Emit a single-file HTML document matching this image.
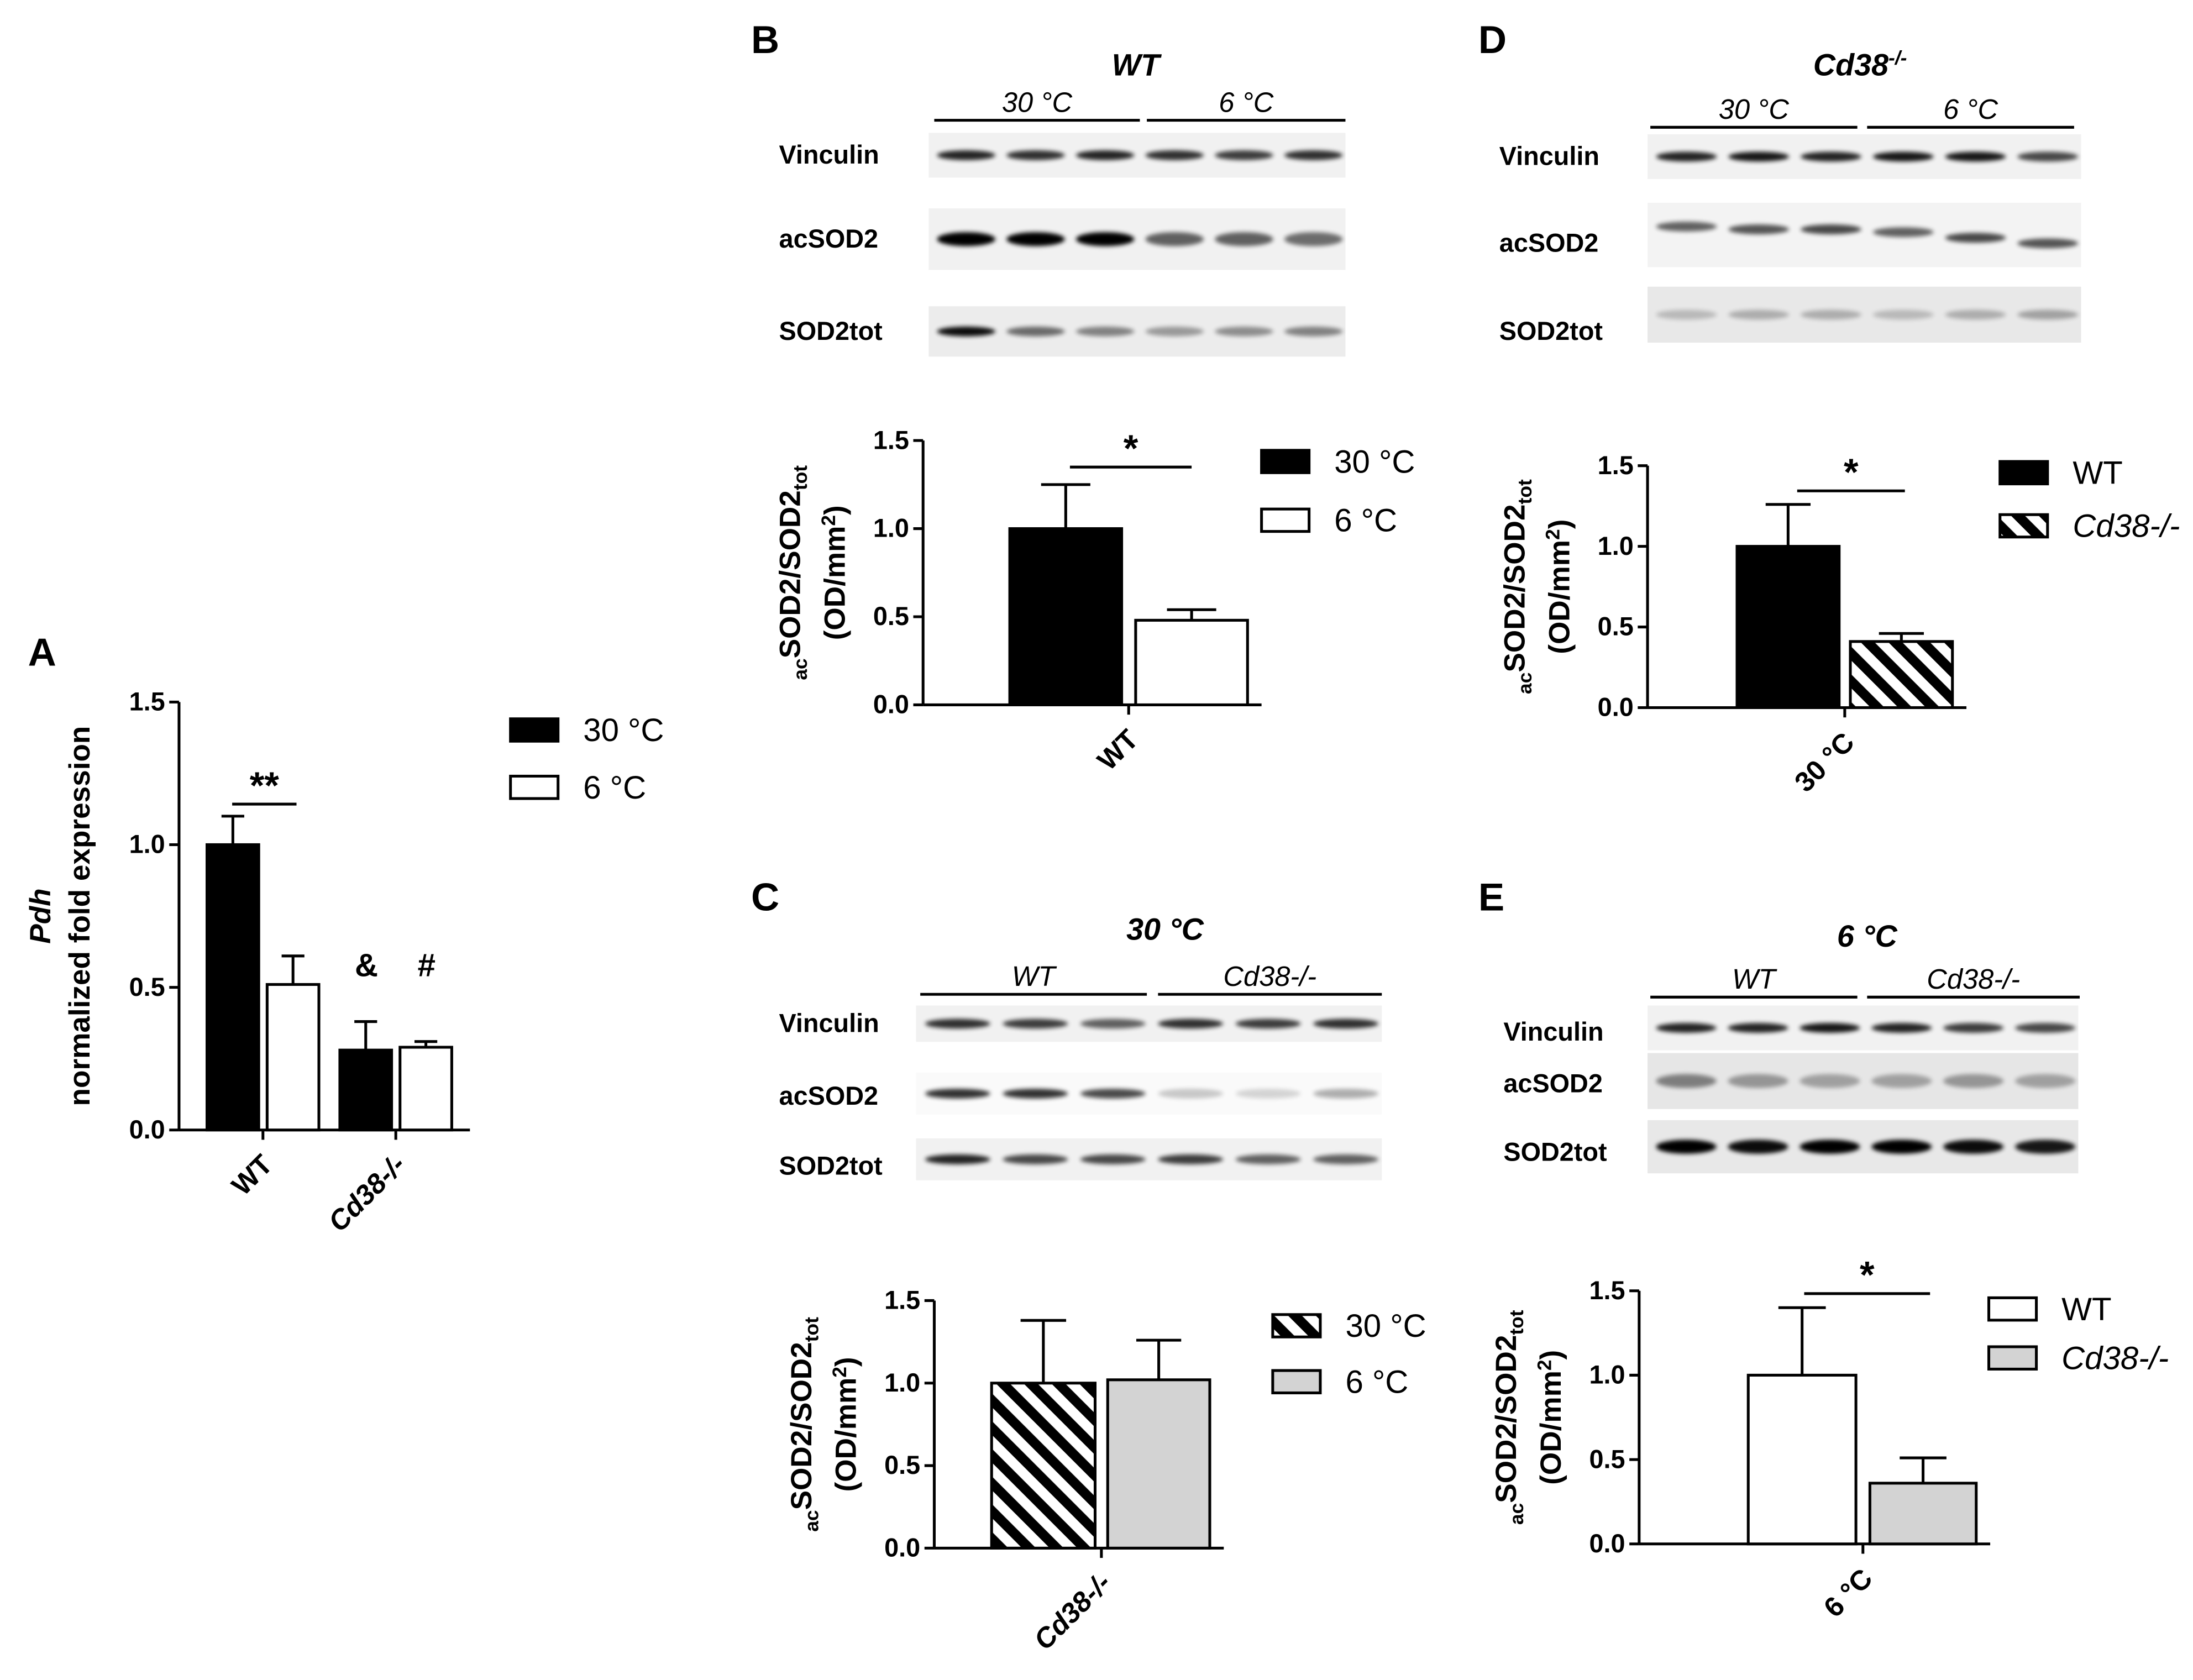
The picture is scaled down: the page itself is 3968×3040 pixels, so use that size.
<!DOCTYPE html>
<html><head><meta charset="utf-8"><style>
html,body{margin:0;padding:0;background:#fff}
svg{display:block}
text{font-family:"Liberation Sans",Arial,sans-serif;fill:#000}
</style></head><body>
<svg id="fig" xmlns="http://www.w3.org/2000/svg" width="3968" height="3040" viewBox="0 0 1568 1201.3">
<defs>
<pattern id="hatch" patternUnits="userSpaceOnUse" width="14" height="14" patternTransform="rotate(-45)">
<rect width="14" height="14" fill="#fff"/><rect width="7" height="14" fill="#000"/>
</pattern>
<filter id="blur" x="-20%" y="-50%" width="140%" height="200%"><feGaussianBlur stdDeviation="1.6"/></filter>
</defs>
<g id="root"></g>
</svg>
<script>
// ---- chart data ----
const aCategories = ["WT", "Cd38-/-"];
const aSeries30 = [1.0, 0.28];
const aSeries30Err = [1.1, 0.38];
const aSeries6 = [0.51, 0.29];
const aSeries6Err = [0.61, 0.31];
const bValues = [1.0, 0.48];
const bErr = [1.25, 0.54];
const cValues = [1.0, 1.02];
const cErr = [1.38, 1.26];
const dValues = [1.0, 0.41];
const dErr = [1.26, 0.46];
const eValues = [1.0, 0.36];
const eErr = [1.4, 0.51];
const tickLabels = ["0.0", "0.5", "1.0", "1.5"];
const tickValues = [0, 0.5, 1.0, 1.5];

const NS = "http://www.w3.org/2000/svg";
const root = document.getElementById('root');
function el(tag, attrs, parent, txt) {
  const e = document.createElementNS(NS, tag);
  for (const k in attrs) e.setAttribute(k, attrs[k]);
  if (txt !== undefined) e.textContent = txt;
  (parent || root).appendChild(e);
  return e;
}
function grp(name) {
  const g = el('g', {});
  
  
  return g;
}

function axis(g, x0, yTop, y0, vmax) {
  const y = v => y0 - (v / vmax) * (y0 - yTop);
  const ax = el('line', {x1: x0, y1: yTop, x2: x0, y2: y0, stroke: '#000', 'stroke-width': 2}, g);
  
  
  tickValues.forEach((v, i) => {
    el('line', {x1: x0 - 7, y1: y(v), x2: x0, y2: y(v), stroke: '#000', 'stroke-width': 2}, g);
    const t = el('text', {x: x0 - 10, y: y(v) + 6, 'text-anchor': 'end', 'font-size': 18.5, 'font-weight': 'bold'}, g, tickLabels[i]);
    
    
  });
  return y;
}
function bar(g, y, x1, x2, v, err, fill, y0, name) {
  const r = el('rect', {x: x1, y: y(v), width: x2 - x1, height: y0 - y(v), fill: fill, stroke: '#000', 'stroke-width': 2}, g);
  
  
  const cx = (x1 + x2) / 2, w = (x2 - x1) * 0.22;
  const eb = el('path', {d: `M${cx},${y(v)}V${y(err)}M${cx - w},${y(err)}H${cx + w}`, stroke: '#000', 'stroke-width': 2, fill: 'none'}, g);
  
  
}
function xaxisLine(g, x0, x2, y0) {
  el('line', {x1: x0, y1: y0, x2: x2, y2: y0, stroke: '#000', 'stroke-width': 2}, g);
}
function legend(g, x, y, fill, label, italic) {
  const r = el('rect', {x: x, y: y, width: 34, height: 16, fill: fill, stroke: '#000', 'stroke-width': 2}, g);
  
  
  const t = el('text', {x: x + 52, y: y + 16, 'font-size': 23, 'font-style': italic ? 'italic' : 'normal'}, g, label);
  
  
}
function rotLabel(g, x, y, txt, italic) {
  const t = el('text', {x: x, y: y, 'text-anchor': 'end', 'font-size': 20, 'font-weight': 'bold', 'font-style': italic ? 'italic' : 'normal', transform: `rotate(-45 ${x} ${y})`}, g, txt);
  
  
}
function yTitle(g, x, cy) {
  const t = el('text', {x: x, y: cy, 'text-anchor': 'middle', 'font-size': 21, 'font-weight': 'bold', transform: `rotate(-90 ${x} ${cy})`}, g);
  
  
  el('tspan', {'font-size': 14, dy: 5}, t, 'ac');
  el('tspan', {dy: -5}, t, 'SOD2/SOD2');
  el('tspan', {'font-size': 14, dy: 5}, t, 'tot');
  const t2 = el('text', {x: x + 32, y: cy, 'text-anchor': 'middle', 'font-size': 21, 'font-weight': 'bold', transform: `rotate(-90 ${x + 32} ${cy})`}, g);
  
  
  el('tspan', {}, t2, '(OD/mm');
  el('tspan', {'font-size': 14, dy: -7}, t2, '2');
  el('tspan', {dy: 7}, t2, ')');
}
function sig(g, x1, x2, y, star) {
  el('line', {x1: x1, y1: y, x2: x2, y2: y, stroke: '#000', 'stroke-width': 2}, g);
  const t = el('text', {x: (x1 + x2) / 2, y: y - 4, 'text-anchor': 'middle', 'font-size': 27, 'font-weight': 'bold'}, g, star);
  
  
}
function letter(x, y, L) {
  const t = el('text', {x: x, y: y, 'font-size': 28, 'font-weight': 'bold'}, root, L);
  
  
}

// ---- Panel A ----
(function () {
  const g = grp('panel-a-chart');
  const y0 = 808;
  const y = axis(g, 128, 502, y0, 1.5);
  xaxisLine(g, 128, 336, y0);
  const groups = [[148, 191], [243, 286]];
  aCategories.forEach((c, i) => {
    bar(g, y, groups[i][0], groups[i][0] + 37, aSeries30[i], aSeries30Err[i], '#000', y0, 'bar-30c-' + i);
    bar(g, y, groups[i][1], groups[i][1] + 37, aSeries6[i], aSeries6Err[i], '#fff', y0, 'bar-6c-' + i);
    el('line', {x1: (groups[i][0] + groups[i][1] + 37) / 2, y1: y0, x2: (groups[i][0] + groups[i][1] + 37) / 2, y2: y0 + 7, stroke: '#000', 'stroke-width': 2}, g);
    rotLabel(g, (groups[i][0] + groups[i][1] + 37) / 2 + 8, y0 + 26, c, i === 1);
  });
  sig(g, 166, 212, 575, '**');
  el('text', {x: 262, y: 698, 'text-anchor': 'middle', 'font-size': 23, 'font-weight': 'bold'}, g, '&');
  el('text', {x: 305, y: 698, 'text-anchor': 'middle', 'font-size': 23, 'font-weight': 'bold'}, g, '#');
  const t = el('text', {x: 36, y: 655, 'text-anchor': 'middle', 'font-size': 21, 'font-weight': 'bold', transform: 'rotate(-90 36 655)'}, g, 'Pdh');
  t.setAttribute('font-style', 'italic');
  el('text', {x: 64, y: 655, 'text-anchor': 'middle', 'font-size': 21, 'font-weight': 'bold', transform: 'rotate(-90 64 655)'}, g, 'normalized fold expression');
  legend(g, 365, 514, '#000', '30 °C');
  legend(g, 365, 555, '#fff', '6 °C');
})();
letter(20, 476, 'A');

// ---- bar panels ----
function panel(name, cfg) {
  const g = grp(name);
  const y0 = cfg.y0;
  const y = axis(g, cfg.x0, cfg.yTop, y0, 1.5);
  xaxisLine(g, cfg.x0, cfg.b2[1] + 10, y0);
  bar(g, y, cfg.b1[0], cfg.b1[1], cfg.vals[0], cfg.errs[0], cfg.f1, y0, 'bar-1');
  bar(g, y, cfg.b2[0], cfg.b2[1], cfg.vals[1], cfg.errs[1], cfg.f2, y0, 'bar-2');
  const mid = (cfg.b1[1] + cfg.b2[0]) / 2;
  el('line', {x1: mid, y1: y0, x2: mid, y2: y0 + 7, stroke: '#000', 'stroke-width': 2}, g);
  rotLabel(g, mid + 8, y0 + 26, cfg.xl, cfg.xlItalic);
  if (cfg.sig) sig(g, cfg.sig[0], cfg.sig[1], cfg.sig[2], '*');
  yTitle(g, cfg.x0 - 88, (cfg.yTop + y0) / 2);
  legend(g, cfg.lx, cfg.ly1, cfg.f1, cfg.l1, false);
  legend(g, cfg.lx, cfg.ly2, cfg.f2, cfg.l2, cfg.l2.startsWith('Cd'));
}
panel('panel-b-chart', {x0: 660, yTop: 315, y0: 504, b1: [722, 802], b2: [812, 892], vals: bValues, errs: bErr, f1: '#000', f2: '#fff', xl: 'WT', sig: [765, 852, 334], lx: 902, ly1: 322, ly2: 364, l1: '30 °C', l2: '6 °C'});
panel('panel-d-chart', {x0: 1178, yTop: 333, y0: 506, b1: [1242, 1315], b2: [1323, 1396], vals: dValues, errs: dErr, f1: '#000', f2: 'url(#hatch)', xl: '30 °C', sig: [1285, 1362, 351], lx: 1430, ly1: 330, ly2: 368, l1: 'WT', l2: 'Cd38-/-'});
panel('panel-c-chart', {x0: 668, yTop: 930, y0: 1107, b1: [709, 783], b2: [792, 865], vals: cValues, errs: cErr, f1: 'url(#hatch)', f2: '#d3d3d3', xl: 'Cd38-/-', xlItalic: true, sig: null, lx: 910, ly1: 940, ly2: 980, l1: '30 °C', l2: '6 °C'});
panel('panel-e-chart', {x0: 1172, yTop: 923, y0: 1104, b1: [1250, 1327], b2: [1337, 1413], vals: eValues, errs: eErr, f1: '#fff', f2: '#d3d3d3', xl: '6 °C', sig: [1290, 1380, 925], lx: 1422, ly1: 928, ly2: 963, l1: 'WT', l2: 'Cd38-/-'});
letter(537, 38, 'B'); letter(537, 651, 'C'); letter(1057, 38, 'D'); letter(1057, 651, 'E');

// ---- western blots ----
function blot(name, cfg) {
  const g = grp(name);
  const t = el('text', {x: cfg.tx, y: cfg.ty, 'text-anchor': 'middle', 'font-size': 22, 'font-weight': 'bold', 'font-style': 'italic'}, g, cfg.title);
  
  
  if (cfg.sup) el('tspan', {'font-size': 14, dy: -8}, t, cfg.sup);
  cfg.groups.forEach(gr => {
    el('line', {x1: gr[0], y1: cfg.ly, x2: gr[1], y2: cfg.ly, stroke: '#000', 'stroke-width': 2}, g);
    el('text', {x: (gr[0] + gr[1]) / 2, y: cfg.ly - 6, 'text-anchor': 'middle', 'font-size': 20, 'font-style': 'italic'}, g, gr[2]);
  });
  cfg.rows.forEach(r => {
    el('rect', {x: cfg.bx[0], y: r.y - r.h / 2, width: cfg.bx[1] - cfg.bx[0], height: r.h, fill: r.bg}, g);
    const lab = el('text', {x: cfg.labx, y: r.ly || r.y + 6, 'font-size': 18.5, 'font-weight': 'bold'}, g, r.name);
    
    
    const w = (cfg.bx[1] - cfg.bx[0]) / 6;
    r.ints.forEach((a, i) => {
      const cx = cfg.bx[0] + w * (i + 0.5) + 2;
      const b = el('ellipse', {cx: cx, cy: r.y + (r.dy ? r.dy[i] : 0), rx: w * 0.42, ry: r.bh || 3.5, fill: '#000', opacity: a, filter: 'url(#blur)'}, g);
      
      
    });
  });
}
blot('panel-b-blot', {title: 'WT', tx: 812, ty: 54, ly: 86, groups: [[668, 815, '30 °C'], [820, 962, '6 °C']], bx: [664, 962], labx: 557,
  rows: [{name: 'Vinculin', y: 111, h: 32, bg: '#f1f1f1', ints: [.85, .8, .85, .8, .75, .8]},
         {name: 'acSOD2', y: 171, h: 44, bg: '#f1f1f1', ints: [1, 1, 1, .6, .6, .55], bh: 5},
         {name: 'SOD2tot', y: 237, h: 36, bg: '#ececec', ints: [.95, .55, .45, .35, .4, .45]}]});
blot('panel-d-blot', {title: 'Cd38', sup: '-/-', tx: 1330, ty: 54, ly: 91, groups: [[1180, 1328, '30 °C'], [1335, 1483, '6 °C']], bx: [1178, 1488], labx: 1072,
  rows: [{name: 'Vinculin', y: 112, h: 32, bg: '#f1f1f1', ints: [.85, .9, .85, .9, .9, .7]},
         {name: 'acSOD2', y: 168, h: 46, bg: '#f3f3f3', ints: [.6, .65, .7, .6, .7, .65], dy: [-6, -4, -4, -2, 2, 6], ly: 180},
         {name: 'SOD2tot', y: 225, h: 40, bg: '#e8e8e8', ints: [.2, .25, .25, .2, .25, .3], ly: 243}]});
blot('panel-c-blot', {title: '30 °C', tx: 833, ty: 672, ly: 711, groups: [[658, 820, 'WT'], [828, 988, 'Cd38-/-']], bx: [655, 988], labx: 557,
  rows: [{name: 'Vinculin', y: 732, h: 26, bg: '#f1f1f1', ints: [.8, .75, .6, .8, .75, .8], ly: 738},
         {name: 'acSOD2', y: 782, h: 30, bg: '#fafafa', ints: [.8, .8, .7, .2, .15, .3], ly: 790},
         {name: 'SOD2tot', y: 829, h: 30, bg: '#f1f1f1', ints: [.85, .7, .7, .75, .6, .6], ly: 840}]});
blot('panel-e-blot', {title: '6 °C', tx: 1335, ty: 677, ly: 713, groups: [[1180, 1328, 'WT'], [1335, 1487, 'Cd38-/-']], bx: [1178, 1486], labx: 1075,
  rows: [{name: 'Vinculin', y: 735, h: 32, bg: '#f1f1f1', ints: [.85, .85, .9, .85, .75, .7], ly: 744},
         {name: 'acSOD2', y: 773, h: 40, bg: '#e6e6e6', ints: [.45, .35, .3, .3, .35, .3], bh: 5, ly: 781},
         {name: 'SOD2tot', y: 820, h: 38, bg: '#e8e8e8', ints: [1, .95, 1, 1, .95, .9], bh: 5, ly: 830}]});
</script>
</body></html>
